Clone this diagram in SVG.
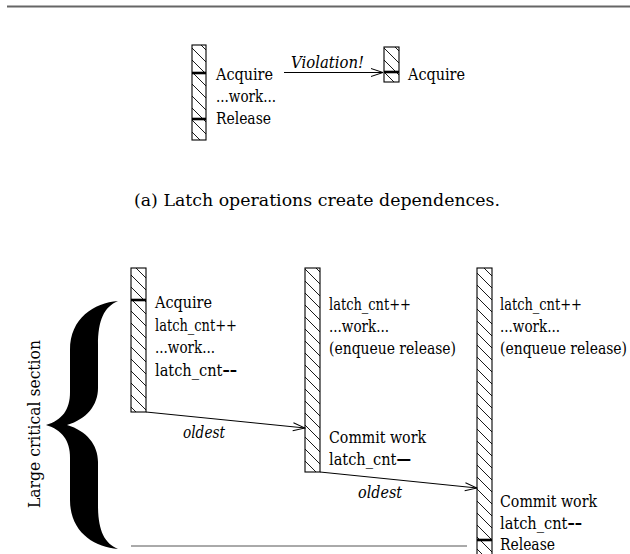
<svg xmlns="http://www.w3.org/2000/svg" width="630" height="554" viewBox="0 0 630 554">
<defs>
<pattern id="hatch" patternUnits="userSpaceOnUse" width="12" height="12">
<path d="M0,0 L12,12 M-1,11 L1,13 M11,-1 L13,1" stroke="#000" stroke-width="0.9" fill="none"/>
</pattern>
<marker id="arr" markerWidth="14" markerHeight="10" refX="13" refY="5" orient="auto" markerUnits="userSpaceOnUse">
<polyline points="1,1 13,5 1,9" fill="none" stroke="#000" stroke-width="1"/>
</marker>
</defs>
<style>
.bar{fill:url(#hatch);stroke:#000;stroke-width:1.1}
.tick{stroke:#000;stroke-width:2.6}
.t{font-family:"DejaVu Serif Condensed","DejaVu Serif",serif;font-size:16px;fill:#000}
.it{font-style:italic}
.b{font-weight:bold}
.conn{stroke:#000;stroke-width:1;fill:none}
</style>
<line x1="7" y1="6.5" x2="630" y2="6.5" stroke="#666" stroke-width="2"/>

<g id="top-left-thread">
<rect class="bar" x="192" y="45" width="14" height="95"/>
<line class="tick" x1="192" y1="73" x2="206" y2="73"/>
<line class="tick" x1="192" y1="119" x2="206" y2="119"/>
<text class="t" x="216" y="80" textLength="57" lengthAdjust="spacingAndGlyphs">Acquire</text>
<text class="t" x="216" y="102" textLength="60" lengthAdjust="spacingAndGlyphs">...work...</text>
<text class="t" x="216" y="124" textLength="55" lengthAdjust="spacingAndGlyphs">Release</text>
</g>
<g id="top-right-thread">
<rect class="bar" x="384" y="47" width="15" height="35"/>
<line class="tick" x1="384" y1="72" x2="399" y2="72"/>
<text class="t" x="408" y="80" textLength="57" lengthAdjust="spacingAndGlyphs">Acquire</text>
</g>

<text x="134" y="206" font-family="DejaVu Serif, serif" font-size="17" textLength="366" lengthAdjust="spacingAndGlyphs">(a) Latch operations create dependences.</text>

<g id="thread1">
<rect class="bar" x="131" y="268" width="15" height="144"/>
<line class="tick" x1="131" y1="300" x2="146" y2="300"/>
<text class="t" x="155" y="308" textLength="57" lengthAdjust="spacingAndGlyphs">Acquire</text>
<text class="t" x="155" y="330.5" textLength="82" lengthAdjust="spacingAndGlyphs">latch_cnt++</text>
<text class="t" x="155" y="353" textLength="60" lengthAdjust="spacingAndGlyphs">...work...</text>
<text class="t" x="155" y="375.5" textLength="82" lengthAdjust="spacingAndGlyphs">latch_cnt<tspan class="b">––</tspan></text>
</g>
<g id="thread2">
<rect class="bar" x="305" y="268" width="15" height="204"/>
<text class="t" x="329" y="310" textLength="82" lengthAdjust="spacingAndGlyphs">latch_cnt++</text>
<text class="t" x="329" y="332" textLength="60" lengthAdjust="spacingAndGlyphs">...work...</text>
<text class="t" x="329" y="354" textLength="127" lengthAdjust="spacingAndGlyphs">(enqueue release)</text>
<text class="t" x="329" y="443" textLength="97" lengthAdjust="spacingAndGlyphs">Commit work</text>
<text class="t" x="329" y="465" textLength="82" lengthAdjust="spacingAndGlyphs">latch_cnt<tspan class="b">—</tspan></text>
</g>
<g id="thread3">
<rect class="bar" x="477" y="268" width="15" height="290"/>
<line class="tick" x1="477" y1="540" x2="492" y2="540"/>
<text class="t" x="500" y="310" textLength="82" lengthAdjust="spacingAndGlyphs">latch_cnt++</text>
<text class="t" x="500" y="332" textLength="60" lengthAdjust="spacingAndGlyphs">...work...</text>
<text class="t" x="500" y="354" textLength="127" lengthAdjust="spacingAndGlyphs">(enqueue release)</text>
<text class="t" x="500" y="507" textLength="97" lengthAdjust="spacingAndGlyphs">Commit work</text>
<text class="t" x="500" y="529" textLength="82" lengthAdjust="spacingAndGlyphs">latch_cnt<tspan class="b">––</tspan></text>
<text class="t" x="500" y="550" textLength="55" lengthAdjust="spacingAndGlyphs">Release</text>
</g>

<g id="brace">
<path d="M118,301 C94,303 70,318 70,350 L70,392 C70,410 62,420 46,425 C62,430 70,440 70,458 L70,500 C70,532 94,547 118,549 C104,543 98,530 98,505 L98,462 C98,445 87,431 67,425 C87,419 98,405 98,388 L98,345 C98,320 104,307 118,301 Z" fill="#000"/>
<text class="t" transform="translate(40,424) rotate(-90)" text-anchor="middle" textLength="168" lengthAdjust="spacingAndGlyphs">Large critical section</text>
</g>

<g id="connectors">
<line class="conn" x1="284" y1="72.5" x2="383" y2="72.5" marker-end="url(#arr)"/>
<text class="t it" x="291" y="68" textLength="73" lengthAdjust="spacingAndGlyphs">Violation!</text>
<line class="conn" x1="146" y1="412" x2="305" y2="428" marker-end="url(#arr)"/>
<text class="t it" x="183" y="438" textLength="42" lengthAdjust="spacingAndGlyphs">oldest</text>
<line class="conn" x1="320" y1="472" x2="477" y2="488" marker-end="url(#arr)"/>
<text class="t it" x="358" y="498" textLength="44" lengthAdjust="spacingAndGlyphs">oldest</text>
<line x1="131" y1="546" x2="467" y2="546" stroke="#555" stroke-width="1"/>
</g>
</svg>
